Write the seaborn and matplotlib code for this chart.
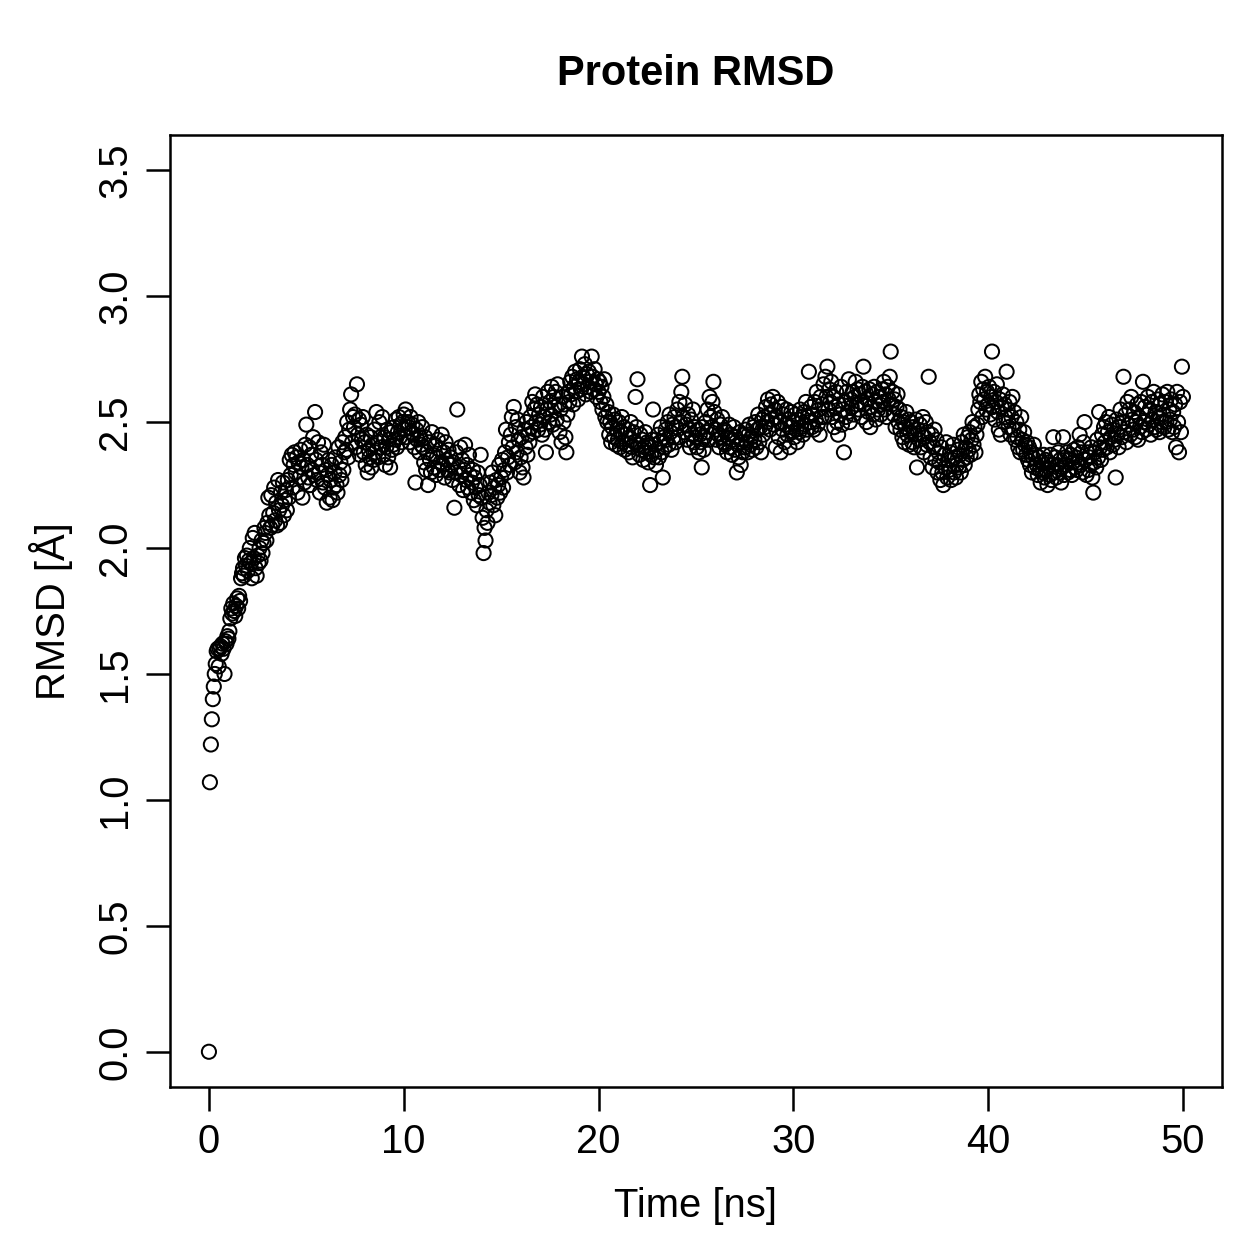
import numpy as np
import pandas as pd
import matplotlib
matplotlib.use("Agg")
import matplotlib.pyplot as plt
import seaborn as sns

rmsd_00_05 = [
    0.00, 1.07, 1.22, 1.32, 1.40, 1.45, 1.50, 1.54, 1.59, 1.60,
    1.53, 1.60, 1.61, 1.58, 1.62, 1.60, 1.50, 1.63, 1.62, 1.65,
    1.64, 1.67, 1.72, 1.76, 1.74, 1.78, 1.75, 1.73, 1.77, 1.80,
    1.76, 1.81, 1.79, 1.88, 1.90, 1.92, 1.89, 1.96, 1.93, 1.97,
    1.91, 1.95, 2.00, 1.94, 1.88, 2.04, 1.96, 2.06, 1.92, 1.89,
    1.97, 1.94, 2.00, 1.95, 2.03, 1.98, 2.02, 2.08, 2.06, 2.03,
    2.10, 2.20, 2.13, 2.08, 2.21, 2.09, 2.14, 2.24, 2.11, 2.18,
    2.09, 2.27, 2.15, 2.10, 2.22, 2.17, 2.26, 2.13, 2.19, 2.23,
    2.15, 2.27, 2.20, 2.35, 2.29, 2.37, 2.24, 2.33, 2.38, 2.30,
    2.36, 2.22, 2.34, 2.28, 2.39, 2.32, 2.20, 2.35, 2.26, 2.41,
]
rmsd_05_10 = [
    2.49, 2.33, 2.28, 2.40, 2.25, 2.37, 2.31, 2.44, 2.29, 2.54,
    2.35, 2.27, 2.42, 2.30, 2.22, 2.38, 2.33, 2.26, 2.41, 2.24,
    2.31, 2.18, 2.29, 2.35, 2.20, 2.27, 2.33, 2.19, 2.24, 2.30,
    2.36, 2.25, 2.22, 2.40, 2.29, 2.34, 2.27, 2.42, 2.31, 2.38,
    2.44, 2.39, 2.50, 2.36, 2.47, 2.55, 2.61, 2.42, 2.52, 2.48,
    2.53, 2.40, 2.65, 2.45, 2.51, 2.37, 2.49, 2.43, 2.52, 2.38,
    2.42, 2.33, 2.45, 2.30, 2.39, 2.36, 2.44, 2.32, 2.41, 2.35,
    2.47, 2.38, 2.54, 2.42, 2.36, 2.50, 2.44, 2.40, 2.52, 2.37,
    2.44, 2.33, 2.40, 2.47, 2.36, 2.43, 2.32, 2.46, 2.39, 2.41,
    2.48, 2.43, 2.51, 2.40, 2.46, 2.52, 2.44, 2.49, 2.42, 2.50,
]
rmsd_10_15 = [
    2.53, 2.47, 2.55, 2.44, 2.50, 2.48, 2.42, 2.52, 2.46, 2.49,
    2.45, 2.40, 2.26, 2.47, 2.43, 2.50, 2.38, 2.44, 2.41, 2.48,
    2.40, 2.34, 2.44, 2.31, 2.38, 2.25, 2.42, 2.35, 2.30, 2.46,
    2.37, 2.32, 2.41, 2.29, 2.36, 2.43, 2.31, 2.39, 2.34, 2.45,
    2.33, 2.38, 2.28, 2.42, 2.35, 2.31, 2.39, 2.30, 2.36, 2.33,
    2.27, 2.34, 2.16, 2.30, 2.38, 2.55, 2.32, 2.25, 2.40, 2.29,
    2.35, 2.23, 2.31, 2.41, 2.27, 2.33, 2.24, 2.37, 2.29, 2.22,
    2.26, 2.31, 2.19, 2.28, 2.24, 2.17, 2.30, 2.21, 2.25, 2.37,
    2.20, 2.12, 1.98, 2.08, 2.03, 2.15, 2.10, 2.22, 2.18, 2.26,
    2.21, 2.30, 2.17, 2.24, 2.13, 2.27, 2.20, 2.25, 2.33, 2.22,
]
rmsd_15_20 = [
    2.28, 2.35, 2.24, 2.31, 2.38, 2.47, 2.30, 2.36, 2.42, 2.33,
    2.45, 2.52, 2.40, 2.56, 2.34, 2.48, 2.38, 2.51, 2.43, 2.30,
    2.36, 2.44, 2.32, 2.28, 2.47, 2.40, 2.50, 2.37, 2.45, 2.42,
    2.52, 2.48, 2.58, 2.46, 2.55, 2.61, 2.50, 2.57, 2.47, 2.53,
    2.49, 2.56, 2.45, 2.60, 2.52, 2.47, 2.38, 2.55, 2.62, 2.50,
    2.58, 2.53, 2.64, 2.49, 2.60, 2.56, 2.62, 2.51, 2.65, 2.57,
    2.46, 2.55, 2.42, 2.60, 2.50, 2.57, 2.44, 2.38, 2.53, 2.62,
    2.58, 2.66, 2.61, 2.68, 2.57, 2.64, 2.70, 2.62, 2.67, 2.59,
    2.66, 2.71, 2.63, 2.76, 2.68, 2.65, 2.73, 2.61, 2.69, 2.64,
    2.70, 2.66, 2.62, 2.76, 2.68, 2.63, 2.71, 2.65, 2.60, 2.67,
]
rmsd_20_25 = [
    2.62, 2.66, 2.58, 2.64, 2.55, 2.60, 2.67, 2.52, 2.57, 2.50,
    2.54, 2.45, 2.50, 2.42, 2.48, 2.53, 2.44, 2.51, 2.41, 2.47,
    2.43, 2.50, 2.40, 2.46, 2.52, 2.42, 2.48, 2.39, 2.45, 2.41,
    2.47, 2.38, 2.44, 2.50, 2.40, 2.36, 2.46, 2.42, 2.60, 2.48,
    2.67, 2.41, 2.37, 2.45, 2.39, 2.43, 2.35, 2.40, 2.46, 2.38,
    2.42, 2.34, 2.40, 2.25, 2.37, 2.43, 2.55, 2.36, 2.41, 2.33,
    2.39, 2.45, 2.36, 2.42, 2.48, 2.38, 2.28, 2.44, 2.40, 2.47,
    2.43, 2.50, 2.41, 2.53, 2.46, 2.39, 2.49, 2.44, 2.52, 2.42,
    2.48, 2.55, 2.44, 2.58, 2.50, 2.62, 2.68, 2.52, 2.46, 2.57,
    2.49, 2.43, 2.53, 2.47, 2.40, 2.51, 2.45, 2.55, 2.42, 2.48,
]
rmsd_25_30 = [
    2.44, 2.40, 2.47, 2.38, 2.45, 2.42, 2.32, 2.48, 2.39, 2.44,
    2.50, 2.46, 2.55, 2.43, 2.60, 2.52, 2.48, 2.58, 2.66, 2.54,
    2.47, 2.43, 2.51, 2.45, 2.40, 2.49, 2.44, 2.52, 2.42, 2.47,
    2.41, 2.46, 2.38, 2.44, 2.49, 2.40, 2.45, 2.37, 2.43, 2.48,
    2.39, 2.44, 2.30, 2.41, 2.36, 2.46, 2.33, 2.42, 2.38, 2.45,
    2.40, 2.47, 2.42, 2.38, 2.45, 2.49, 2.41, 2.44, 2.39, 2.48,
    2.43, 2.50, 2.40, 2.47, 2.53, 2.42, 2.48, 2.38, 2.51, 2.45,
    2.52, 2.48, 2.56, 2.50, 2.59, 2.53, 2.47, 2.57, 2.51, 2.60,
    2.49, 2.55, 2.40, 2.52, 2.58, 2.44, 2.50, 2.38, 2.56, 2.47,
    2.53, 2.42, 2.49, 2.55, 2.45, 2.51, 2.40, 2.48, 2.54, 2.46,
]
rmsd_30_35 = [
    2.50, 2.44, 2.53, 2.47, 2.42, 2.51, 2.46, 2.55, 2.48, 2.52,
    2.45, 2.54, 2.49, 2.58, 2.47, 2.52, 2.70, 2.50, 2.56, 2.48,
    2.53, 2.47, 2.58, 2.51, 2.62, 2.49, 2.55, 2.45, 2.60, 2.52,
    2.57, 2.65, 2.52, 2.68, 2.60, 2.72, 2.55, 2.63, 2.58, 2.66,
    2.52, 2.60, 2.48, 2.56, 2.62, 2.50, 2.45, 2.57, 2.53, 2.64,
    2.49, 2.55, 2.38, 2.58, 2.52, 2.62, 2.54, 2.67, 2.50, 2.59,
    2.56, 2.62, 2.53, 2.60, 2.66, 2.57, 2.63, 2.55, 2.61, 2.58,
    2.52, 2.64, 2.72, 2.57, 2.62, 2.50, 2.59, 2.54, 2.63, 2.48,
    2.56, 2.61, 2.53, 2.64, 2.58, 2.51, 2.62, 2.55, 2.60, 2.57,
    2.53, 2.63, 2.58, 2.66, 2.55, 2.61, 2.52, 2.64, 2.59, 2.68,
]
rmsd_35_40 = [
    2.78, 2.57, 2.62, 2.53, 2.59, 2.48, 2.56, 2.61, 2.50, 2.55,
    2.47, 2.52, 2.44, 2.50, 2.42, 2.48, 2.54, 2.45, 2.51, 2.41,
    2.46, 2.50, 2.42, 2.48, 2.40, 2.45, 2.51, 2.32, 2.47, 2.43,
    2.49, 2.40, 2.45, 2.52, 2.38, 2.44, 2.50, 2.41, 2.46, 2.68,
    2.42, 2.36, 2.45, 2.32, 2.40, 2.47, 2.35, 2.43, 2.30, 2.38,
    2.34, 2.27, 2.40, 2.30, 2.25, 2.37, 2.32, 2.42, 2.28, 2.35,
    2.31, 2.38, 2.27, 2.35, 2.41, 2.30, 2.36, 2.28, 2.33, 2.39,
    2.32, 2.37, 2.30, 2.42, 2.35, 2.45, 2.33, 2.40, 2.36, 2.44,
    2.39, 2.46, 2.37, 2.43, 2.50, 2.41, 2.48, 2.38, 2.45, 2.49,
    2.55, 2.61, 2.58, 2.66, 2.52, 2.63, 2.59, 2.68, 2.55, 2.62,
]
rmsd_40_45 = [
    2.57, 2.64, 2.53, 2.60, 2.78, 2.56, 2.62, 2.51, 2.58, 2.65,
    2.54, 2.47, 2.59, 2.45, 2.56, 2.61, 2.50, 2.57, 2.52, 2.70,
    2.55, 2.48, 2.58, 2.45, 2.52, 2.60, 2.47, 2.54, 2.43, 2.50,
    2.44, 2.40, 2.47, 2.38, 2.52, 2.43, 2.39, 2.46, 2.41, 2.37,
    2.42, 2.35, 2.40, 2.33, 2.38, 2.30, 2.36, 2.41, 2.32, 2.37,
    2.33, 2.29, 2.36, 2.31, 2.26, 2.34, 2.30, 2.37, 2.28, 2.35,
    2.31, 2.25, 2.34, 2.29, 2.37, 2.27, 2.33, 2.44, 2.30, 2.36,
    2.28, 2.33, 2.38, 2.30, 2.35, 2.26, 2.32, 2.44, 2.29, 2.36,
    2.33, 2.38, 2.30, 2.35, 2.31, 2.37, 2.29, 2.34, 2.39, 2.32,
    2.36, 2.31, 2.40, 2.34, 2.45, 2.33, 2.38, 2.30, 2.42, 2.50,
]
rmsd_45_50 = [
    2.35, 2.29, 2.38, 2.31, 2.36, 2.33, 2.40, 2.28, 2.22, 2.34,
    2.38, 2.32, 2.43, 2.36, 2.54, 2.40, 2.35, 2.45, 2.39, 2.48,
    2.42, 2.50, 2.40, 2.46, 2.52, 2.38, 2.44, 2.49, 2.41, 2.47,
    2.43, 2.28, 2.51, 2.45, 2.40, 2.48, 2.55, 2.44, 2.50, 2.68,
    2.46, 2.53, 2.42, 2.58, 2.49, 2.55, 2.45, 2.60, 2.51, 2.47,
    2.54, 2.44, 2.50, 2.57, 2.43, 2.52, 2.48, 2.58, 2.46, 2.66,
    2.50, 2.56, 2.47, 2.53, 2.60, 2.49, 2.55, 2.45, 2.58, 2.51,
    2.62, 2.48, 2.54, 2.47, 2.59, 2.52, 2.46, 2.57, 2.50, 2.61,
    2.53, 2.48, 2.58, 2.50, 2.62, 2.47, 2.55, 2.51, 2.59, 2.46,
    2.54, 2.48, 2.57, 2.40, 2.62, 2.50, 2.38, 2.58, 2.46, 2.72,
    2.60,
]
DT_NS = 0.05

rmsd = (rmsd_00_05 + rmsd_05_10 + rmsd_10_15 + rmsd_15_20 + rmsd_20_25 +
        rmsd_25_30 + rmsd_30_35 + rmsd_35_40 + rmsd_40_45 + rmsd_45_50)
df = pd.DataFrame({"time": np.round(np.arange(len(rmsd)) * DT_NS, 2),
                   "rmsd": rmsd})

sns.set_theme(style="ticks")
plt.rcParams["font.family"] = ["Liberation Sans", "DejaVu Sans"]
plt.rcParams["font.size"] = 12
plt.rcParams["text.color"] = "black"
plt.rcParams["axes.labelcolor"] = "black"

fig = plt.figure(figsize=(1259 / 240, 1259 / 240), dpi=240)
ax = fig.add_axes([0.135, 0.1366, 0.8355, 0.7562])

sns.scatterplot(data=df, x="time", y="rmsd", ax=ax, marker="o", s=18,
                facecolor="none", edgecolor="black", linewidth=0.6)

ax.set_xlim(-2, 52)
ax.set_ylim(-0.14, 3.64)
ax.set_xticks([0, 10, 20, 30, 40, 50])
ax.set_yticks([0.0, 0.5, 1.0, 1.5, 2.0, 2.5, 3.0, 3.5])
ax.set_yticklabels(["0.0", "0.5", "1.0", "1.5", "2.0", "2.5", "3.0", "3.5"],
                   rotation=90, va="center")
ax.tick_params(axis="both", direction="out", length=7.2, width=0.75,
               color="black", labelsize=12, labelcolor="black", pad=3.5)
for sp in ax.spines.values():
    sp.set_visible(True)
    sp.set_linewidth(0.75)
    sp.set_color("black")

ax.set_title("Protein RMSD", fontsize=12.5, fontweight="bold", pad=15,
             color="black")
ax.set_xlabel("Time [ns]", fontsize=12, labelpad=8, color="black")
ax.set_ylabel("RMSD [Å]", fontsize=12, labelpad=7, color="black")

fig.savefig("out.png", dpi=240)
